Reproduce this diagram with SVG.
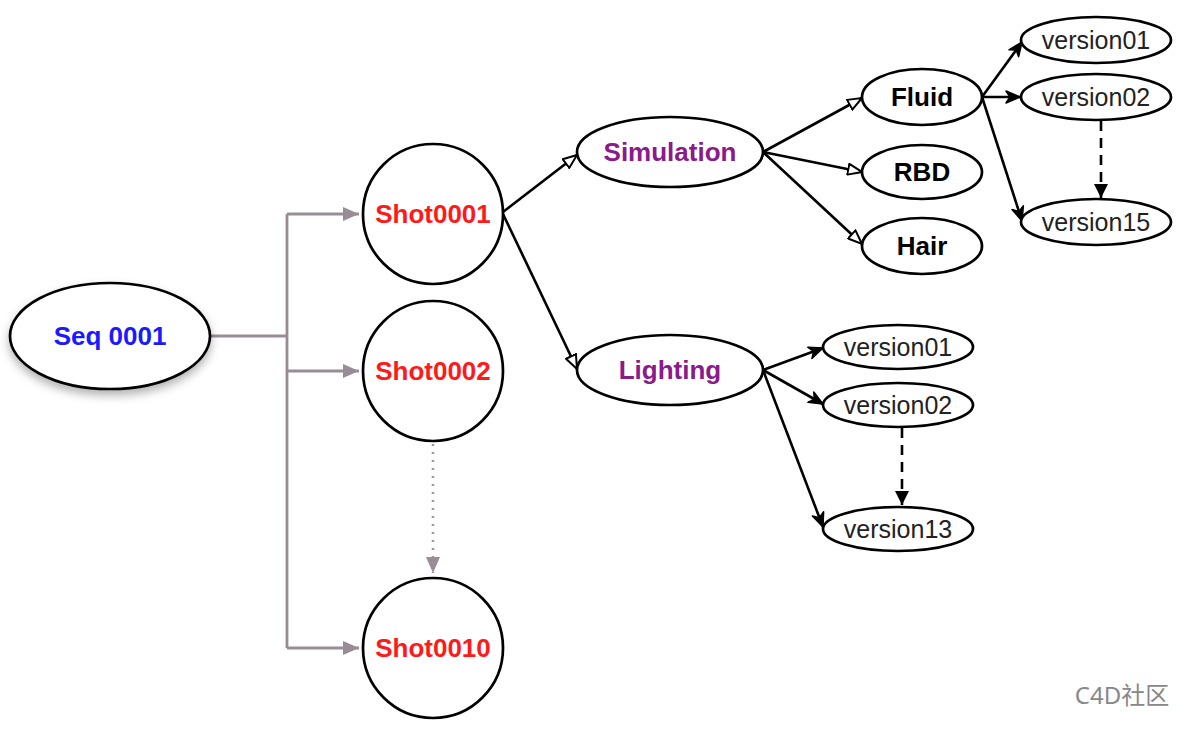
<svg xmlns="http://www.w3.org/2000/svg" width="1200" height="732" viewBox="0 0 1200 732">
<defs>
<marker id="tri" viewBox="0 0 16 13" refX="15" refY="6.5" markerWidth="16" markerHeight="13" markerUnits="userSpaceOnUse" orient="auto"><path d="M1,1 L15,6.5 L1,12 Z" fill="#fff" stroke="#000" stroke-width="2"/></marker>
<marker id="open" viewBox="0 0 16 14" refX="15" refY="7" markerWidth="16" markerHeight="14" markerUnits="userSpaceOnUse" orient="auto"><path d="M1,1 L15,7 L1,13 L5,7 Z" fill="#000" stroke="#000" stroke-width="1.5" stroke-linejoin="round"/></marker>
<marker id="fill" viewBox="0 0 14 14" refX="14" refY="7" markerWidth="14" markerHeight="14" markerUnits="userSpaceOnUse" orient="auto"><path d="M0,0 L14,7 L0,14 Z" fill="#000"/></marker>
<marker id="gray" viewBox="0 0 16 14" refX="16" refY="7" markerWidth="16" markerHeight="14" markerUnits="userSpaceOnUse" orient="auto"><path d="M0,0 L16,7 L0,14 Z" fill="#9a8c96"/></marker>
<filter id="sh" x="-20%" y="-20%" width="140%" height="160%"><feDropShadow dx="0" dy="5" stdDeviation="5" flood-color="#000" flood-opacity="0.3"/></filter>
</defs>
<style>
.n{fill:#fff;stroke:#000;stroke-width:2.7}
.t{font-family:"Liberation Sans",Arial,sans-serif;text-anchor:middle;dominant-baseline:central}
.b{font-weight:bold;font-size:26px}
.v{font-size:25px;fill:#222}
.e{fill:none;stroke:#000;stroke-width:2.6}
.g{fill:none;stroke:#9a8c96;stroke-width:2.8}
</style>
<rect width="1200" height="732" fill="#fff"/>
<g id="connectors">
<path class="g" d="M210,336 H287 M287,214 V648"/>
<path class="g" d="M287,214 H359" marker-end="url(#gray)"/>
<path class="g" d="M287,371 H359" marker-end="url(#gray)"/>
<path class="g" d="M287,648 H359" marker-end="url(#gray)"/>
<path d="M433,444 V573" fill="none" stroke="#999" stroke-width="2.5" stroke-dasharray="2,6" marker-end="url(#gray)"/>
<path class="e" d="M503,212 L577,155" marker-end="url(#tri)"/>
<path class="e" d="M503,214 L577,369" marker-end="url(#tri)"/>
<path class="e" d="M763,152 L862,98" marker-end="url(#tri)"/>
<path class="e" d="M763,152 L862,172" marker-end="url(#tri)"/>
<path class="e" d="M763,152 L862,244" marker-end="url(#tri)"/>
<path class="e" d="M982,97 L1022,42" marker-end="url(#open)"/>
<path class="e" d="M982,97 L1020,97" marker-end="url(#open)"/>
<path class="e" d="M982,97 L1022,221" marker-end="url(#open)"/>
<path class="e" d="M1101,121 L1101,198" stroke-dasharray="10,7" marker-end="url(#fill)"/>
<path class="e" d="M763,370 L823,348" marker-end="url(#open)"/>
<path class="e" d="M763,370 L823,404" marker-end="url(#open)"/>
<path class="e" d="M763,370 L823,527" marker-end="url(#open)"/>
<path class="e" d="M902,428 L902,505" stroke-dasharray="10,7" marker-end="url(#fill)"/>
</g>
<g id="seq"><ellipse class="n" cx="110" cy="336" rx="100" ry="53" filter="url(#sh)"/><text class="t b" x="110" y="336" fill="#1a1aff">Seq 0001</text></g>
<g id="shot0001"><circle class="n" cx="433" cy="214" r="70"/><text class="t b" x="433" y="214" fill="#ff1a1a">Shot0001</text></g>
<g id="shot0002"><circle class="n" cx="433" cy="371" r="70"/><text class="t b" x="433" y="371" fill="#ff1a1a">Shot0002</text></g>
<g id="shot0010"><circle class="n" cx="433" cy="648" r="70"/><text class="t b" x="433" y="648" fill="#ff1a1a">Shot0010</text></g>
<g id="simulation"><ellipse class="n" cx="670" cy="152" rx="93" ry="35"/><text class="t b" x="670" y="152" fill="#8b1a8b">Simulation</text></g>
<g id="lighting"><ellipse class="n" cx="670" cy="370" rx="93" ry="35"/><text class="t b" x="670" y="370" fill="#8b1a8b">Lighting</text></g>
<g id="fluid"><ellipse class="n" cx="922" cy="97" rx="60" ry="28"/><text class="t b" x="922" y="97">Fluid</text></g>
<g id="rbd"><ellipse class="n" cx="922" cy="172" rx="60" ry="27"/><text class="t b" x="922" y="172">RBD</text></g>
<g id="hair"><ellipse class="n" cx="922" cy="246" rx="60" ry="28"/><text class="t b" x="922" y="246">Hair</text></g>
<g id="f-v01"><ellipse class="n" cx="1096" cy="40" rx="75" ry="23"/><text class="t v" x="1096" y="40">version01</text></g>
<g id="f-v02"><ellipse class="n" cx="1096" cy="97" rx="75" ry="23"/><text class="t v" x="1096" y="97">version02</text></g>
<g id="f-v15"><ellipse class="n" cx="1096" cy="222" rx="75" ry="23"/><text class="t v" x="1096" y="222">version15</text></g>
<g id="l-v01"><ellipse class="n" cx="898" cy="347" rx="75" ry="22"/><text class="t v" x="898" y="347">version01</text></g>
<g id="l-v02"><ellipse class="n" cx="898" cy="405" rx="75" ry="22"/><text class="t v" x="898" y="405">version02</text></g>
<g id="l-v13"><ellipse class="n" cx="898" cy="529" rx="75" ry="22"/><text class="t v" x="898" y="529">version13</text></g>
<text x="1122" y="704" font-family="'Noto Sans','Noto Sans CJK SC',sans-serif" font-size="24" fill="#888" text-anchor="middle">C4D社区</text>
</svg>
